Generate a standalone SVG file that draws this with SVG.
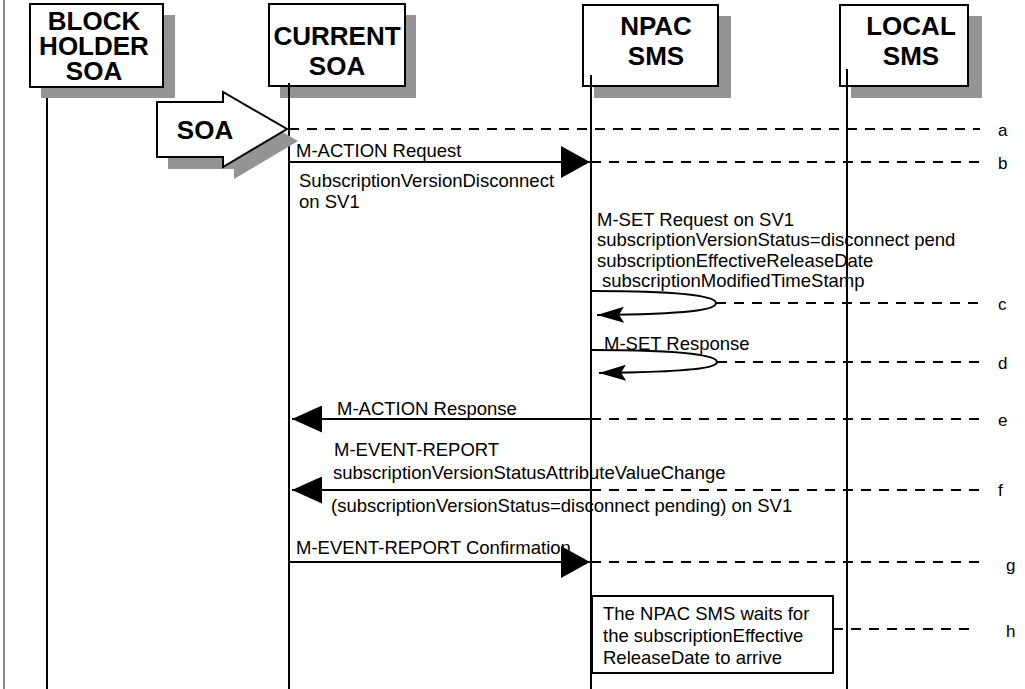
<svg xmlns="http://www.w3.org/2000/svg" width="1025" height="689" viewBox="0 0 1025 689">
<style>
.box{fill:#fff;stroke:#000;stroke-width:2}
.shadow{fill:#949494;stroke:none}
.title{font-family:"Liberation Sans",Arial,sans-serif;font-weight:bold;font-size:26px;fill:#000;text-anchor:middle}
.txt{font-family:"Liberation Sans",Arial,sans-serif;font-size:18.5px;fill:#000}
.lbl{font-family:"Liberation Sans",Arial,sans-serif;font-size:17px;fill:#000}
.life{stroke:#000;stroke-width:2;fill:none}
.msg{stroke:#000;stroke-width:2;fill:none}
.dash{stroke:#000;stroke-width:2;stroke-dasharray:10,8;fill:none}
</style>
<defs>
<marker id="triR" markerUnits="userSpaceOnUse" markerWidth="29" markerHeight="32" viewBox="0 0 29 32" refX="29" refY="16" orient="auto"><path d="M0,0 L29,16 L0,32 z" fill="#000"/></marker>
<marker id="triL" markerUnits="userSpaceOnUse" markerWidth="30" markerHeight="27" viewBox="0 0 30 27" refX="30" refY="13.5" orient="auto"><path d="M0,0 L30,13.5 L0,27 z" fill="#000"/></marker>
<marker id="stealth" markerUnits="userSpaceOnUse" markerWidth="27" markerHeight="16" viewBox="0 0 27 16" refX="27" refY="8" orient="auto"><path d="M0,0 L27,8 L0,16 L5,8 z" fill="#000"/></marker>
</defs>
<rect width="1025" height="689" fill="#fff"/>
<line x1="4" y1="0" x2="4" y2="689" stroke="#888" stroke-width="2"/>

<g id="node-blockholder">
<rect class="shadow" x="41" y="15" width="134" height="83"/>
<rect class="box" x="30" y="4" width="133" height="83"/>
<text class="title" x="94" y="30">BLOCK</text>
<text class="title" x="94" y="55">HOLDER</text>
<text class="title" x="94" y="80">SOA</text>
</g>
<g id="node-currentsoa">
<rect class="shadow" x="280" y="15" width="136" height="83"/>
<rect class="box" x="269" y="4" width="136" height="82"/>
<text class="title" x="337" y="45">CURRENT</text>
<text class="title" x="337" y="75">SOA</text>
</g>
<g id="node-npac">
<rect class="shadow" x="594" y="16" width="137" height="82"/>
<rect class="box" x="583" y="5" width="135" height="81"/>
<text class="title" x="656" y="35">NPAC</text>
<text class="title" x="656" y="65">SMS</text>
</g>
<g id="node-local">
<rect class="shadow" x="851" y="16" width="131" height="82"/>
<rect class="box" x="840" y="5" width="128" height="81"/>
<text class="title" x="911" y="35">LOCAL</text>
<text class="title" x="911" y="65">SMS</text>
</g>

<g id="lifelines">
<line class="life" x1="47" y1="98" x2="47" y2="689"/>
<line class="life" x1="289" y1="83" x2="289" y2="689"/>
<line class="life" x1="591" y1="75" x2="591" y2="689"/>
<line class="life" x1="847" y1="69" x2="847" y2="689"/>
</g>

<g id="node-soa-arrow">
<polygon class="shadow" points="168,114 234,114 234,104 298,141 234,179 234,169 168,169"/>
<polygon class="box" points="157,102 223,102 223,92 287,129 223,167 223,157 157,157"/>
<text class="title" x="205" y="139">SOA</text>
</g>

<g id="node-wait">
<rect class="box" x="592" y="596" width="241" height="77"/>
<text class="txt" x="603" y="620">The NPAC SMS waits for</text>
<text class="txt" x="603" y="642">the subscriptionEffective</text>
<text class="txt" x="603" y="664">ReleaseDate to arrive</text>
</g>

<g id="connectors">
<!-- a -->
<line class="dash" x1="289" y1="129" x2="980" y2="129"/>
<!-- b -->
<line class="msg" x1="289" y1="162" x2="590" y2="162" marker-end="url(#triR)"/>
<line class="dash" x1="591" y1="162" x2="980" y2="162"/>
<!-- c -->
<path class="msg" d="M591,291 C690,291 716,297 716,303 C716,310 690,314 597,315" marker-end="url(#stealth)"/>
<line class="dash" x1="716" y1="303" x2="980" y2="303"/>
<!-- d -->
<path class="msg" d="M591,350 C690,350 717,356 717,362 C717,368 690,372 599,373" marker-end="url(#stealth)"/>
<line class="dash" x1="717" y1="362" x2="980" y2="362"/>
<!-- e -->
<line class="msg" x1="591" y1="419" x2="292" y2="419" marker-end="url(#triL)"/>
<line class="dash" x1="591" y1="419" x2="980" y2="419"/>
<!-- f -->
<line class="msg" x1="591" y1="490" x2="292" y2="490" marker-end="url(#triL)"/>
<line class="dash" x1="591" y1="490" x2="980" y2="490"/>
<!-- g -->
<line class="msg" x1="289" y1="562" x2="590" y2="562" marker-end="url(#triR)"/>
<line class="dash" x1="591" y1="562" x2="980" y2="562"/>
<!-- h -->
<line class="dash" x1="833" y1="629" x2="975" y2="629"/>
</g>

<g id="message-labels">
<text class="txt" x="296" y="157">M-ACTION Request</text>
<text class="txt" x="299" y="187">SubscriptionVersionDisconnect</text>
<text class="txt" x="299" y="208">on SV1</text>
<text class="txt" x="597" y="225.5">M-SET Request on SV1</text>
<text class="txt" x="597" y="246">subscriptionVersionStatus=disconnect pend</text>
<text class="txt" x="597" y="266.5">subscriptionEffectiveReleaseDate</text>
<text class="txt" x="602" y="287">subscriptionModifiedTimeStamp</text>
<text class="txt" x="604" y="350">M-SET Response</text>
<text class="txt" x="337" y="415">M-ACTION Response</text>
<text class="txt" x="334" y="456">M-EVENT-REPORT</text>
<text class="txt" x="333" y="479">subscriptionVersionStatusAttributeValueChange</text>
<text class="txt" x="331" y="512">(subscriptionVersionStatus=disconnect pending) on SV1</text>
<text class="txt" x="296" y="554">M-EVENT-REPORT Confirmation</text>
</g>

<g id="step-labels">
<text class="lbl" x="998" y="136">a</text>
<text class="lbl" x="998" y="169">b</text>
<text class="lbl" x="998" y="310">c</text>
<text class="lbl" x="998" y="369">d</text>
<text class="lbl" x="998" y="426">e</text>
<text class="lbl" x="998" y="496">f</text>
<text class="lbl" x="1006" y="571">g</text>
<text class="lbl" x="1006" y="637">h</text>
</g>
</svg>
